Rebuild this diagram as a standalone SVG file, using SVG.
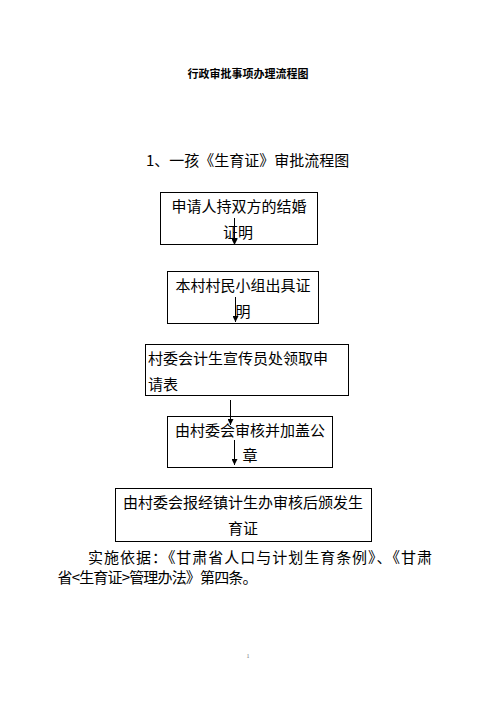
<svg xmlns="http://www.w3.org/2000/svg" width="496" height="702" viewBox="0 0 496 702">
<style>
.bg{fill:#ffffff}
.box{fill:#ffffff;stroke:#000000;stroke-width:1}
.t{font-family:"Noto Sans CJK SC","Noto Sans",sans-serif;font-size:15px;fill:#000000}
.c{text-anchor:middle}
.title{font-family:"Noto Sans CJK SC","Noto Sans",sans-serif;font-size:11px;font-weight:bold;fill:#000000;text-anchor:middle}
.pg{font-family:"Liberation Serif",serif;font-size:6px;fill:#777777;text-anchor:middle}
.conn{stroke:#000000;stroke-width:1;fill:none}
</style>
<defs>
<marker id="arr" markerUnits="userSpaceOnUse" markerWidth="6" markerHeight="6" refX="6" refY="3" orient="auto">
<path d="M0,0 L6,3 L0,6 z" fill="#000000"/>
</marker>
</defs>
<rect class="bg" x="0" y="0" width="496" height="702"/>
<text class="title" x="248" y="78">行政审批事项办理流程图</text>
<text class="t" x="146" y="166">1、一孩《生育证》审批流程图</text>
<g id="n1">
<rect class="box" x="160.5" y="192.5" width="157" height="52"/>
<text class="t c" x="239" y="212">申请人持双方的结婚</text>
<text class="t c" x="238" y="238">证明</text>
</g>
<g id="n2">
<rect class="box" x="167.5" y="271.5" width="151" height="52"/>
<text class="t c" x="243" y="291">本村村民小组出具证</text>
<text class="t c" x="243" y="317">明</text>
</g>
<g id="n3">
<rect class="box" x="145.5" y="344.5" width="203" height="51"/>
<text class="t" x="148" y="364">村委会计生宣传员处领取申</text>
<text class="t" x="148" y="390">请表</text>
</g>
<g id="n4">
<rect class="box" x="167.5" y="416.5" width="165" height="51"/>
<text class="t c" x="250" y="436">由村委会审核并加盖公</text>
<text class="t c" x="250" y="461">章</text>
</g>
<g id="n5">
<rect class="box" x="115.5" y="488.5" width="256" height="53"/>
<text class="t c" x="243" y="508">由村委会报经镇计生办审核后颁发生</text>
<text class="t c" x="243" y="534">育证</text>
</g>
<g id="connectors">
<line class="conn" x1="234.5" y1="218" x2="234.5" y2="245" marker-end="url(#arr)"/>
<line class="conn" x1="235.5" y1="297" x2="235.5" y2="322" marker-end="url(#arr)"/>
<line class="conn" x1="230.5" y1="400" x2="230.5" y2="425" marker-end="url(#arr)"/>
<line class="conn" x1="234.5" y1="440" x2="234.5" y2="465" marker-end="url(#arr)"/>
</g>
<text class="t" x="88" y="562.5" textLength="344" lengthAdjust="spacing">实施依据：《甘肃省人口与计划生育条例》、《甘肃</text>
<text class="t" x="57.5" y="583" textLength="200" lengthAdjust="spacing">省&lt;生育证&gt;管理办法》第四条。</text>
<text class="pg" x="248" y="658">1</text>
</svg>
